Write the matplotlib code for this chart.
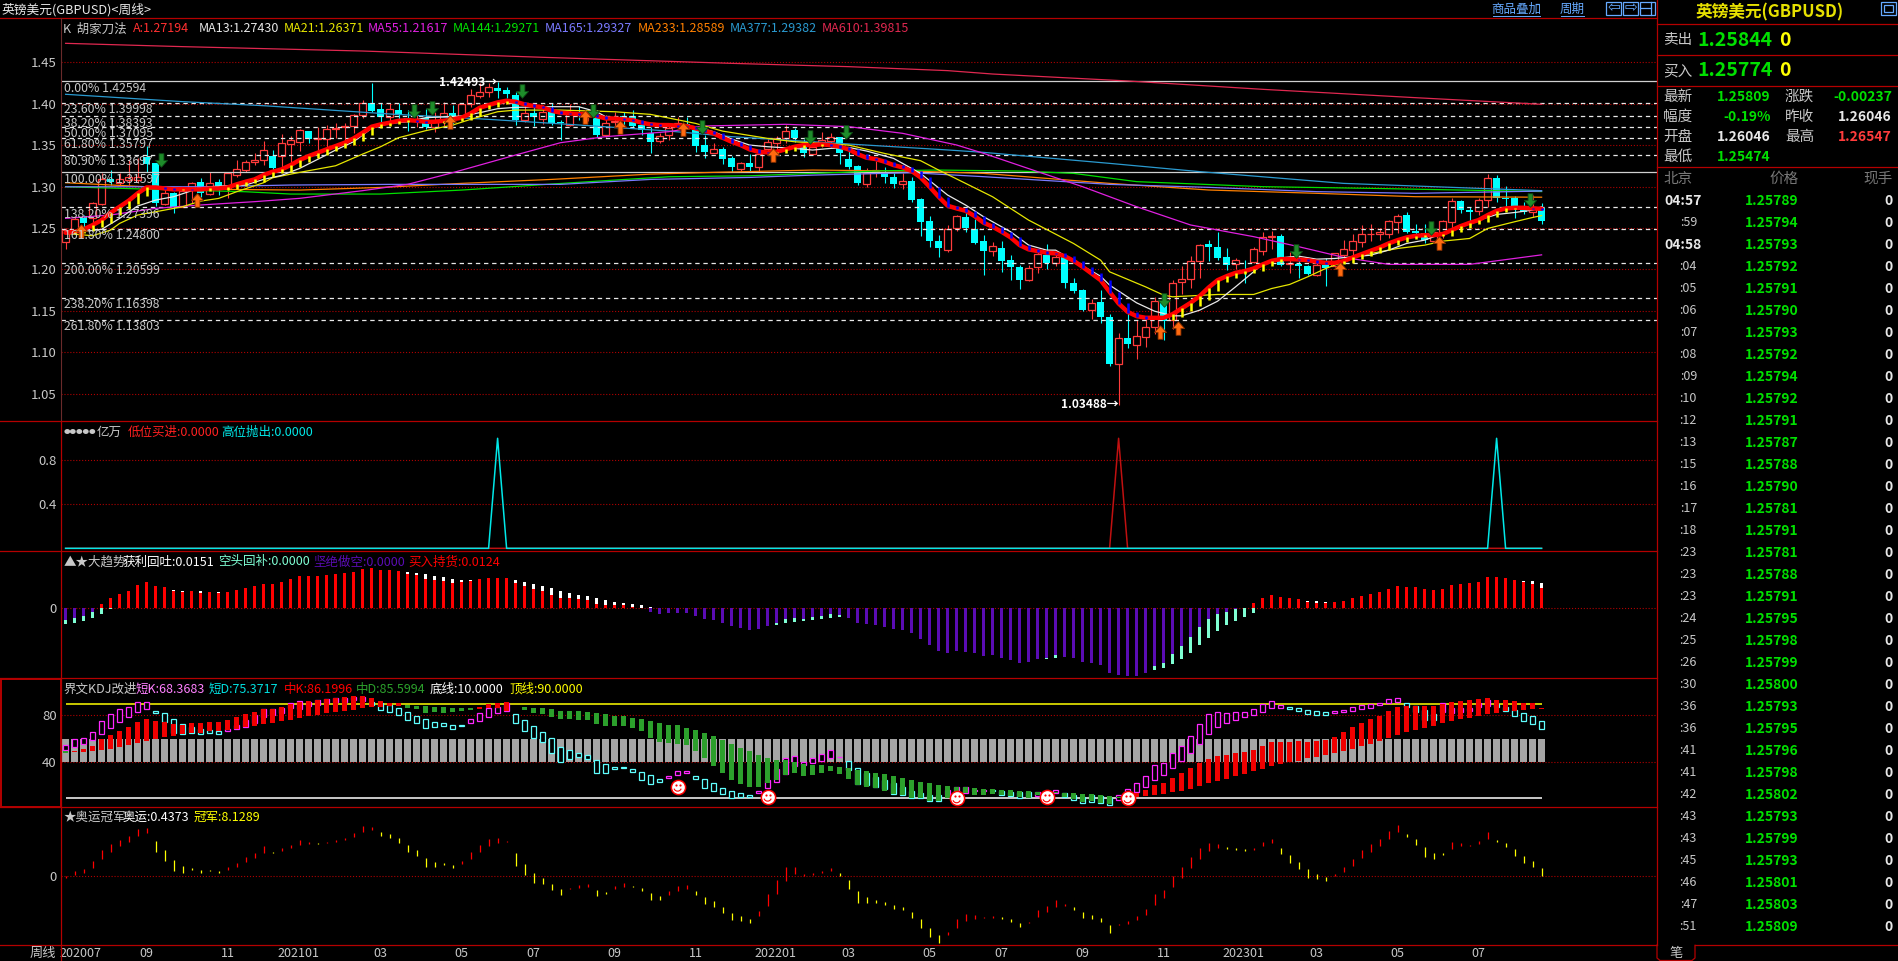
"""
GBPUSD weekly terminal screen: candles with moving averages and four indicator panes.
"""

import numpy as np
from matplotlib import pyplot as plt
from matplotlib.patches import Rectangle
from matplotlib.path import Path

plt.rcParams['font.family'] = ['Noto Sans CJK SC', 'DejaVu Sans']
plt.rcParams['axes.unicode_minus'] = False

W, H = 1898, 961

# %%
# Weekly candles
opens = [
    1.2321, 1.2441, 1.2603, 1.2603, 1.2776, 1.3078, 1.3034, 1.3066, 1.3066, 1.3340,
    1.3268, 1.2776, 1.2913, 1.2744, 1.2953, 1.3038, 1.2893, 1.3038, 1.2965, 1.3131,
    1.3187, 1.3280, 1.3312, 1.3356, 1.3356, 1.3501, 1.3530, 1.3659, 1.3562, 1.3566,
    1.3679, 1.3711, 1.3719, 1.3852, 1.4001, 1.3920, 1.3824, 1.3912, 1.3820, 1.3791,
    1.3820, 1.3711, 1.3791, 1.3872, 1.3832, 1.3981, 1.4082, 1.4134, 1.4174, 1.4154,
    1.4094, 1.3791, 1.3872, 1.3800, 1.3892, 1.3771, 1.3731, 1.3872, 1.3860, 1.3811,
    1.3610, 1.3771, 1.3840, 1.3840, 1.3731, 1.3638, 1.3541, 1.3610, 1.3743, 1.3743,
    1.3670, 1.3489, 1.3396, 1.3437, 1.3332, 1.3199, 1.3267, 1.3223, 1.3437, 1.3517,
    1.3578, 1.3670, 1.3469, 1.3380, 1.3501, 1.3541, 1.3582, 1.3320, 1.3235, 1.3018,
    1.3179, 1.3146, 1.3098, 1.3022, 1.3058, 1.2836, 1.2570, 1.2328, 1.2220, 1.2490,
    1.2619, 1.2478, 1.2328, 1.2212, 1.2244, 1.2099, 1.2018, 1.1857, 1.2018, 1.2159,
    1.2058, 1.2130, 1.1816, 1.1735, 1.1501, 1.1590, 1.1405, 1.0837, 1.1151, 1.1078,
    1.1163, 1.1292, 1.1602, 1.1372, 1.1828, 1.1876, 1.2082, 1.2291, 1.2251, 1.2134,
    1.2046, 1.2090, 1.2078, 1.2211, 1.2380, 1.2388, 1.2046, 1.2046, 1.2025, 1.1917,
    1.2042, 1.2025, 1.2158, 1.2219, 1.2320, 1.2412, 1.2412, 1.2420, 1.2561, 1.2642,
    1.2449, 1.2432, 1.2328, 1.2441, 1.2561, 1.2811, 1.2702, 1.2694, 1.2831, 1.3085,
    1.2852, 1.2852, 1.2731, 1.2682, 1.2723,
]
closes = [
    1.2462, 1.2595, 1.2550, 1.2784, 1.3074, 1.3046, 1.3074, 1.3106, 1.3106, 1.3260,
    1.2792, 1.2913, 1.2736, 1.2937, 1.3034, 1.2905, 1.3034, 1.2977, 1.3147, 1.3195,
    1.3280, 1.3308, 1.3425, 1.3215, 1.3517, 1.3550, 1.3671, 1.3558, 1.3578, 1.3679,
    1.3695, 1.3723, 1.3852, 1.4001, 1.3904, 1.3824, 1.3920, 1.3852, 1.3800, 1.3800,
    1.3703, 1.3791, 1.3872, 1.3824, 1.3985, 1.4094, 1.4134, 1.4194, 1.4146, 1.4106,
    1.3791, 1.3872, 1.3824, 1.3892, 1.3751, 1.3751, 1.3872, 1.3864, 1.3864, 1.3610,
    1.3751, 1.3783, 1.3791, 1.3719, 1.3670, 1.3529, 1.3598, 1.3691, 1.3751, 1.3691,
    1.3481, 1.3408, 1.3437, 1.3320, 1.3219, 1.3267, 1.3219, 1.3380, 1.3521, 1.3578,
    1.3662, 1.3570, 1.3388, 1.3461, 1.3549, 1.3582, 1.3388, 1.3219, 1.3030, 1.3155,
    1.3187, 1.3098, 1.3014, 1.3050, 1.2824, 1.2562, 1.2328, 1.2248, 1.2473, 1.2631,
    1.2482, 1.2308, 1.2208, 1.2268, 1.2087, 1.2018, 1.1857, 1.1998, 1.2171, 1.2058,
    1.2130, 1.1824, 1.1727, 1.1501, 1.1574, 1.1413, 1.0841, 1.1151, 1.1090, 1.1179,
    1.1284, 1.1606, 1.1364, 1.1824, 1.1876, 1.2082, 1.2287, 1.2259, 1.2126, 1.2038,
    1.2098, 1.2082, 1.2231, 1.2380, 1.2388, 1.2038, 1.2058, 1.2030, 1.1929, 1.2038,
    1.2009, 1.2179, 1.2227, 1.2328, 1.2412, 1.2420, 1.2437, 1.2570, 1.2630, 1.2437,
    1.2428, 1.2340, 1.2441, 1.2574, 1.2815, 1.2702, 1.2682, 1.2831, 1.3085, 1.2844,
    1.2836, 1.2731, 1.2682, 1.2715, 1.2574,
]
highs = [
    1.2482, 1.2623, 1.2643, 1.2804, 1.3147, 1.3187, 1.3147, 1.3308, 1.3328, 1.3477,
    1.3276, 1.2985, 1.2925, 1.2965, 1.3046, 1.3086, 1.3167, 1.3074, 1.3167, 1.3308,
    1.3308, 1.3388, 1.3538, 1.3429, 1.3622, 1.3598, 1.3679, 1.3659, 1.3711, 1.3731,
    1.3751, 1.3751, 1.3860, 1.4033, 1.4243, 1.4001, 1.4001, 1.4001, 1.3912, 1.3852,
    1.3920, 1.3892, 1.4005, 1.3973, 1.3993, 1.4166, 1.4235, 1.4235, 1.4249, 1.4194,
    1.4134, 1.4013, 1.3993, 1.3973, 1.3993, 1.3791, 1.3985, 1.3961, 1.3912, 1.3912,
    1.3852, 1.3892, 1.3892, 1.3912, 1.3751, 1.3711, 1.3638, 1.3751, 1.3824, 1.3824,
    1.3711, 1.3610, 1.3509, 1.3469, 1.3356, 1.3288, 1.3376, 1.3429, 1.3558, 1.3598,
    1.3731, 1.3691, 1.3558, 1.3549, 1.3650, 1.3638, 1.3590, 1.3437, 1.3247, 1.3207,
    1.3300, 1.3227, 1.3146, 1.3146, 1.3098, 1.2844, 1.2631, 1.2401, 1.2522, 1.2643,
    1.2703, 1.2590, 1.2401, 1.2320, 1.2328, 1.2159, 1.2038, 1.2038, 1.2220, 1.2292,
    1.2170, 1.2178, 1.1888, 1.1755, 1.1634, 1.1735, 1.1453, 1.1223, 1.1493, 1.1372,
    1.1393, 1.1655, 1.1634, 1.1856, 1.2025, 1.2146, 1.2299, 1.2340, 1.2440, 1.2239,
    1.2118, 1.2098, 1.2251, 1.2441, 1.2449, 1.2412, 1.2199, 1.2158, 1.2038, 1.2058,
    1.2118, 1.2187, 1.2340, 1.2420, 1.2521, 1.2541, 1.2481, 1.2582, 1.2650, 1.2674,
    1.2541, 1.2541, 1.2461, 1.2582, 1.2844, 1.2831, 1.2743, 1.2844, 1.3134, 1.3126,
    1.2993, 1.2872, 1.2803, 1.2884, 1.2791,
]
lows = [
    1.2232, 1.2421, 1.2462, 1.2522, 1.2764, 1.3006, 1.3006, 1.3006, 1.3026, 1.3167,
    1.2752, 1.2764, 1.2663, 1.2736, 1.2784, 1.2865, 1.2885, 1.2885, 1.2844, 1.3098,
    1.3167, 1.3247, 1.3247, 1.3114, 1.3227, 1.3268, 1.3417, 1.3517, 1.3429, 1.3469,
    1.3570, 1.3530, 1.3630, 1.3820, 1.3888, 1.3771, 1.3771, 1.3791, 1.3663, 1.3703,
    1.3679, 1.3650, 1.3719, 1.3731, 1.3791, 1.3945, 1.4053, 1.4074, 1.4053, 1.4053,
    1.3731, 1.3771, 1.3719, 1.3739, 1.3731, 1.3549, 1.3719, 1.3791, 1.3783, 1.3582,
    1.3590, 1.3711, 1.3731, 1.3711, 1.3610, 1.3396, 1.3517, 1.3549, 1.3711, 1.3678,
    1.3408, 1.3336, 1.3388, 1.3259, 1.3167, 1.3167, 1.3167, 1.3167, 1.3368, 1.3408,
    1.3517, 1.3529, 1.3348, 1.3368, 1.3469, 1.3469, 1.3259, 1.3195, 1.3005, 1.2985,
    1.3098, 1.3026, 1.2965, 1.2953, 1.2804, 1.2389, 1.2260, 1.2139, 1.2199, 1.2453,
    1.2441, 1.2292, 1.1917, 1.2147, 1.1958, 1.1857, 1.1748, 1.1845, 1.1946, 1.1990,
    1.2025, 1.1767, 1.1703, 1.1485, 1.1381, 1.1340, 1.0816, 1.0349, 1.1038, 1.0905,
    1.1050, 1.1203, 1.1131, 1.1260, 1.1687, 1.1763, 1.1884, 1.2090, 1.2098, 1.1977,
    1.1997, 1.1824, 1.2058, 1.2158, 1.2227, 1.2025, 1.1937, 1.1888, 1.1917, 1.1905,
    1.1784, 1.2017, 1.2118, 1.2098, 1.2251, 1.2328, 1.2340, 1.2360, 1.2428, 1.2428,
    1.2388, 1.2300, 1.2320, 1.2360, 1.2481, 1.2670, 1.2570, 1.2642, 1.2743, 1.2803,
    1.2723, 1.2610, 1.2654, 1.2622, 1.2533,
]

# the thick "A" line, one value per week
line_a = [
    1.2429, 1.2441, 1.2470, 1.2522, 1.2582, 1.2671, 1.2744, 1.2816, 1.2905, 1.2977,
    1.2977, 1.2965, 1.2953, 1.2957, 1.2953, 1.2953, 1.2965, 1.2965, 1.2977, 1.3014,
    1.3046, 1.3074, 1.3127, 1.3167, 1.3195, 1.3247, 1.3308, 1.3356, 1.3397, 1.3437,
    1.3477, 1.3517, 1.3570, 1.3638, 1.3711, 1.3739, 1.3759, 1.3783, 1.3791, 1.3783,
    1.3771, 1.3771, 1.3783, 1.3800, 1.3820, 1.3872, 1.3940, 1.3973, 1.4005, 1.4025,
    1.4013, 1.3981, 1.3961, 1.3945, 1.3904, 1.3880, 1.3872, 1.3864, 1.3864, 1.3840,
    1.3811, 1.3811, 1.3799, 1.3791, 1.3759, 1.3739, 1.3731, 1.3731, 1.3723, 1.3719,
    1.3691, 1.3662, 1.3630, 1.3578, 1.3529, 1.3489, 1.3437, 1.3408, 1.3400, 1.3408,
    1.3437, 1.3469, 1.3489, 1.3489, 1.3497, 1.3489, 1.3469, 1.3437, 1.3380, 1.3336,
    1.3320, 1.3288, 1.3247, 1.3219, 1.3175, 1.3098, 1.2985, 1.2864, 1.2756, 1.2723,
    1.2695, 1.2631, 1.2550, 1.2502, 1.2441, 1.2373, 1.2280, 1.2228, 1.2208, 1.2187,
    1.2179, 1.2146, 1.2090, 1.2017, 1.1937, 1.1856, 1.1715, 1.1574, 1.1473, 1.1421,
    1.1401, 1.1401, 1.1401, 1.1445, 1.1514, 1.1582, 1.1663, 1.1767, 1.1856, 1.1904,
    1.1945, 1.1965, 1.1997, 1.2046, 1.2090, 1.2110, 1.2110, 1.2106, 1.2098, 1.2078,
    1.2066, 1.2066, 1.2086, 1.2130, 1.2171, 1.2211, 1.2251, 1.2300, 1.2340, 1.2372,
    1.2392, 1.2400, 1.2400, 1.2412, 1.2461, 1.2509, 1.2549, 1.2582, 1.2642, 1.2694,
    1.2723, 1.2731, 1.2731, 1.2723, 1.2719,
]

# moving averages: week number and price at the points
ma13_x = [0, 4, 6, 8, 10, 12, 14, 16, 18, 20, 22, 24, 26, 28, 30, 32, 34, 36, 38, 40, 44, 46, 48, 50, 54, 57, 59,
          60, 63, 65, 67, 70, 72, 74, 76, 78, 81, 83, 85, 87, 89, 92, 95, 98, 100, 102, 105, 107, 109, 110, 112,
          115, 116, 119, 121, 123, 124, 126, 128, 130, 132, 133, 135, 137, 139, 141, 143, 145, 147, 149, 151,
          153, 155, 157, 159, 161, 163, 164]
ma13_y = [1.2421, 1.2470, 1.2603, 1.2752, 1.2824, 1.2865, 1.2937, 1.2985, 1.2998, 1.3006, 1.3074, 1.3123, 1.3207,
          1.3316, 1.3429, 1.3530, 1.3691, 1.3751, 1.3771, 1.3820, 1.3840, 1.3880, 1.3929, 1.3945, 1.3953, 1.3953,
          1.3892, 1.3832, 1.3791, 1.3751, 1.3743, 1.3711, 1.3650, 1.3562, 1.3489, 1.3469, 1.3449, 1.3429, 1.3449,
          1.3461, 1.3417, 1.3328, 1.3146, 1.2885, 1.2764, 1.2623, 1.2441, 1.2280, 1.2219, 1.2219, 1.2090, 1.1904,
          1.1796, 1.1582, 1.1481, 1.1425, 1.1425, 1.1493, 1.1602, 1.1776, 1.1957, 1.2058, 1.2126, 1.2146, 1.2110,
          1.2118, 1.2138, 1.2158, 1.2219, 1.2300, 1.2340, 1.2420, 1.2521, 1.2582, 1.2650, 1.2674, 1.2703, 1.2743]
ma21_x = [0, 3, 5, 6, 8, 11, 13, 15, 17, 19, 22, 23, 26, 30, 33, 35, 37, 40, 43, 45, 48, 50, 55, 61, 65, 70, 73,
          78, 81, 87, 91, 95, 97, 100, 103, 107, 109, 112, 115, 116, 120, 122, 123, 128, 132, 134, 136, 138, 140,
          142, 144, 148, 151, 153, 156, 158, 161, 163, 164]
ma21_y = [1.2421, 1.2393, 1.2462, 1.2542, 1.2643, 1.2703, 1.2744, 1.2812, 1.2844, 1.2925, 1.3034, 1.3094, 1.3159,
          1.3239, 1.3380, 1.3469, 1.3578, 1.3663, 1.3731, 1.3800, 1.3892, 1.3912, 1.3912, 1.3892, 1.3860, 1.3751,
          1.3658, 1.3570, 1.3529, 1.3489, 1.3388, 1.3300, 1.3187, 1.3026, 1.2864, 1.2582, 1.2469, 1.2299, 1.2098,
          1.1957, 1.1775, 1.1675, 1.1655, 1.1683, 1.1683, 1.1755, 1.1804, 1.1896, 1.1997, 1.2078, 1.2158, 1.2239,
          1.2279, 1.2328, 1.2360, 1.2481, 1.2562, 1.2614, 1.2637]
ma55_x = [0, 5, 10, 15, 21, 26, 33, 38, 43, 50, 55, 60, 67, 71, 80, 87, 93, 99, 102, 108, 113, 119, 125, 132, 137,
          142, 147, 156, 164]
ma55_y = [1.2603, 1.2644, 1.2724, 1.2765, 1.2805, 1.2845, 1.2938, 1.3014, 1.3155, 1.3369, 1.3518, 1.3591, 1.3651,
          1.3720, 1.3740, 1.3712, 1.3631, 1.3490, 1.3389, 1.3168, 1.2986, 1.2744, 1.2523, 1.2382, 1.2261, 1.2132,
          1.2047, 1.2047, 1.2162]
ma144_x = [0, 9, 20, 25, 35, 44, 54, 61, 67, 76, 83, 91, 97, 106, 112, 119, 133, 145, 164]
ma144_y = [1.2985, 1.2957, 1.2925, 1.2897, 1.2897, 1.2945, 1.3018, 1.3066, 1.3106, 1.3118, 1.3146, 1.3179, 1.3187,
           1.3175, 1.3147, 1.3047, 1.2986, 1.2966, 1.2927]
ma165_x = [0, 15, 25, 36, 55, 65, 76, 83, 94, 102, 116, 127, 139, 150, 164]
ma165_y = [1.2985, 1.2985, 1.3006, 1.3014, 1.3014, 1.3074, 1.3098, 1.3126, 1.3155, 1.3107, 1.3014, 1.2978, 1.2926,
           1.2906, 1.2933]
ma233_x = [0, 9, 18, 26, 35, 44, 54, 65, 72, 83, 94, 102, 116, 127, 139, 150, 164]
ma233_y = [1.3034, 1.2985, 1.2953, 1.2945, 1.2977, 1.3026, 1.3074, 1.3138, 1.3159, 1.3187, 1.3175, 1.3147, 1.3026,
           1.2946, 1.2906, 1.2865, 1.2859]
ma377_x = [0, 13, 22, 36, 47, 57, 67, 74, 87, 98, 102, 116, 126, 142, 164]
ma377_y = [1.4103, 1.4014, 1.3965, 1.3865, 1.3800, 1.3732, 1.3659, 1.3591, 1.3502, 1.3430, 1.3401, 1.3268, 1.3168,
           1.3026, 1.2938]
ma610_x = [0, 13, 33, 53, 74, 87, 98, 103, 118, 133, 150, 164]
ma610_y = [1.4719, 1.4679, 1.4626, 1.4550, 1.4477, 1.4437, 1.4389, 1.4348, 1.4264, 1.4163, 1.4062, 1.3982]

# fibonacci levels
fib_prices = [1.42594, 1.39998, 1.38393, 1.37095, 1.35797, 1.33697, 1.31597, 1.27396, 1.24800, 1.20599, 1.16398,
              1.13803]
fib_pcts = ['0.00%', '23.60%', '38.20%', '50.00%', '61.80%', '80.90%', '100.00%', '138.20%', '161.80%', '200.00%',
            '238.20%', '261.80%']

# signal arrows
green_x = [10.6, 38.7, 40.7, 50.7, 58.6, 70.7, 82.7, 86.7, 122.0, 136.7, 151.7, 162.7]
green_y = [1.3308, 1.3904, 1.3932, 1.4142, 1.3904, 1.3711, 1.3582, 1.3650, 1.1622, 1.2211, 1.2481, 1.2823]
orange_x = [1.7, 14.6, 42.7, 57.7, 61.6, 68.6, 78.6, 121.6, 123.6, 141.6, 152.6]
orange_y = [1.2450, 1.2824, 1.3771, 1.3832, 1.3703, 1.3678, 1.3368, 1.1231, 1.1272, 1.1985, 1.2300]

price_ticks = [1.4489, 1.3989, 1.3488, 1.2988, 1.2487, 1.1987, 1.1486, 1.0986, 1.0485]
price_labels = ['1.45', '1.40', '1.35', '1.30', '1.25', '1.20', '1.15', '1.10', '1.05']

# %%
# Pane 2: low buy / high sell signals
low_buy = [0] * 117 + [1] + [0] * 47
high_sell = [0] * 48 + [1] + [0] * 110 + [1] + [0] * 5

# %%
# Pane 3: trend bars, in units of 0.0001
buy_hold = [0] * 4 + [
    26, 60, 86, 104, 140, 158, 134, 128, 106, 100,
    104, 94, 98, 94, 98, 110, 124, 134, 148, 146,
    158, 176, 194, 194, 194, 200, 206, 212, 218, 236,
    242, 230, 230, 224, 206, 200, 176, 170, 164, 152,
    158, 164, 176, 182, 182, 182, 152, 134, 116, 104,
    80, 62, 62, 56, 50, 26, 18, 18, 18, 8, 2,
] + [0] * 67 + [
    32, 62, 80, 68, 62, 56, 38, 32, 32, 38,
    44, 62, 74, 86, 98, 116, 134, 128, 128, 116,
    110, 116, 140, 146, 152, 158, 188, 188, 182, 170,
    158, 146, 124,
]
profit_take = [0] * 4 + [
    26, 60, 86, 104, 140, 158, 134, 128, 110, 104,
    104, 104, 98, 98, 98, 110, 124, 134, 148, 146,
    158, 176, 194, 194, 194, 200, 206, 212, 218, 236,
    242, 230, 230, 224, 218, 212, 206, 194, 188, 176,
    170, 170, 176, 182, 182, 182, 170, 158, 146, 134,
    122, 104, 92, 80, 74, 62, 50, 38, 32, 26, 20, 8,
] + [0] * 66 + [
    32, 62, 80, 68, 62, 56, 44, 44, 38, 38,
    44, 62, 74, 86, 98, 116, 134, 128, 128, 116,
    110, 116, 140, 146, 152, 158, 188, 188, 182, 170,
    164, 164, 151,
]
short_sell = [70, 60, 46, 24] + [0] * 61 + [
    20, 34, 28, 28, 28, 46, 64, 70, 88, 106, 118, 130, 124, 106, 88, 64, 58,
    64, 52, 46, 34, 40, 58, 88, 94, 100, 112,
    124, 130, 148, 184, 220, 256, 268, 256, 262, 268,
    286, 280, 298, 310, 328, 322, 304, 298, 280, 292,
    298, 322, 328, 340, 388, 400, 406, 406, 388, 346,
    328, 274, 226, 172, 112, 64, 34, 22, 4,
] + [0] * 34
short_cover = [94, 86, 76, 60, 34, 6] + [0] * 73 + [100, 88, 82, 76, 70, 64, 58, 52] + [0] * 22 + [304, 298] \
    + [0] * 10 + [370, 358, 334, 304, 268, 220, 178, 136, 100, 76, 52, 28] + [0] * 32

# %%
# Pane 4: short and mid KD
short_k = [
    54.7, 59.6, 60.4, 65.5, 75.2, 80.8, 85.1, 86.8, 91.0, 91.0,
    82.3, 74.6, 64.7, 64.1, 64.7, 63.8, 65.2, 64.4, 68.1, 71.8,
    76.0, 80.3, 85.1, 85.1, 85.9, 90.2, 92.2, 91.6, 93.0, 93.6,
    94.5, 94.5, 95.9, 95.9, 88.8, 84.5, 83.1, 80.3, 76.0, 73.8,
    69.5, 70.3, 71.2, 68.1, 71.2, 76.6, 81.7, 85.9, 87.4, 90.2,
    73.8, 66.9, 60.4, 57.6, 48.2, 40.6, 43.1, 44.2, 43.1, 31.2,
    30.6, 34.0, 35.4, 31.5, 25.0, 21.6, 23.0, 28.6, 32.9, 32.9,
    25.5, 18.4, 15.9, 12.7, 9.4, 10.2, 10.2, 15.9, 25.0, 34.0,
    43.4, 45.7, 40.6, 43.4, 47.1, 50.5, 44.8, 33.5, 21.3, 20.7,
    19.3, 17.0, 13.0, 11.9, 9.4, 9.4, 7.1, 7.1, 16.4, 18.7,
    18.7, 16.4, 16.4, 15.9, 12.2, 11.3, 9.4, 10.2, 15.0, 15.0,
    16.2, 10.8, 7.9, 5.7, 6.5, 5.7, 3.7, 12.2, 17.3, 22.1,
    28.1, 37.4, 39.2, 47.7, 53.9, 62.4, 72.6, 80.8, 82.5, 81.7,
    82.5, 82.5, 85.1, 89.6, 91.9, 88.5, 85.7, 84.0, 81.4, 80.6,
    80.6, 83.4, 84.2, 86.8, 88.5, 89.4, 90.2, 93.6, 94.5, 87.4,
    83.1, 76.0, 76.0, 90.2, 85.9, 85.9, 86.5, 90.2, 93.0, 87.4,
    84.0, 79.7, 75.5, 72.9, 68.4,
]
short_d = [
    50.5, 52.8, 55.6, 59.0, 64.1, 69.5, 74.6, 78.9, 83.1, 85.4,
    84.0, 81.7, 76.6, 72.6, 69.8, 68.1, 67.5, 66.7, 67.0, 68.1,
    70.3, 73.2, 78.9, 80.3, 81.7, 85.9, 85.1, 87.9, 88.8, 90.2,
    91.6, 91.6, 93.0, 92.5, 91.6, 90.2, 88.8, 86.5, 82.5, 79.7,
    76.6, 74.0, 73.2, 71.5, 71.8, 73.2, 75.5, 78.9, 82.3, 84.0,
    80.8, 76.0, 70.9, 66.1, 60.4, 53.3, 50.5, 48.2, 46.5, 42.0,
    38.3, 36.3, 36.3, 34.6, 31.5, 28.9, 26.1, 26.9, 28.9, 30.6,
    28.6, 25.5, 22.1, 18.4, 15.9, 14.2, 12.5, 13.6, 17.9, 23.0,
    29.8, 36.9, 37.7, 39.2, 41.4, 43.4, 44.2, 41.1, 34.9, 30.6,
    27.8, 25.0, 22.1, 19.3, 15.9, 13.6, 12.2, 12.2, 12.2, 14.2,
    14.2, 15.6, 15.6, 16.4, 15.9, 15.0, 15.0, 15.0, 11.3, 12.2,
    13.6, 14.2, 12.2, 10.8, 12.2, 11.3, 9.4, 7.9, 13.0, 15.0,
    19.3, 25.2, 29.5, 35.4, 41.1, 47.9, 55.9, 64.4, 70.3, 73.8,
    76.0, 78.9, 80.6, 83.1, 86.5, 86.5, 86.8, 85.9, 84.2, 83.4,
    82.5, 82.3, 83.1, 84.0, 85.7, 86.5, 88.5, 90.2, 91.6, 90.2,
    87.9, 84.5, 81.1, 83.1, 82.3, 83.1, 84.0, 86.8, 88.2, 89.4,
    87.4, 84.2, 81.7, 79.1, 75.4,
]
mid_k = [
    47.7, 49.4, 51.3, 53.9, 59.6, 63.3, 66.7, 70.3, 74.0, 76.6,
    75.2, 74.6, 72.6, 71.8, 73.2, 73.2, 74.3, 74.3, 76.0, 78.6,
    80.8, 82.8, 85.4, 85.4, 86.8, 89.4, 91.3, 92.5, 93.0, 93.9,
    94.5, 95.3, 96.4, 96.4, 94.7, 92.2, 90.8, 90.2, 85.9, 85.4,
    82.3, 82.8, 81.7, 82.8, 83.4, 84.5, 87.1, 89.9, 90.5, 91.3,
    86.8, 84.5, 81.7, 80.8, 78.6, 76.6, 76.6, 76.0, 76.0, 72.3,
    70.9, 70.9, 70.9, 68.9, 66.7, 60.4, 57.3, 56.2, 55.6, 54.7,
    49.6, 43.4, 36.9, 30.6, 25.0, 21.3, 19.3, 19.3, 22.1, 25.0,
    29.2, 31.2, 28.4, 29.2, 31.2, 32.6, 30.1, 25.8, 20.7, 19.3,
    17.9, 15.9, 13.0, 12.2, 9.4, 9.4, 7.4, 7.4, 9.4, 13.6,
    13.6, 12.2, 12.2, 13.0, 12.2, 11.3, 10.2, 9.4, 12.2, 13.0,
    13.6, 10.8, 8.5, 6.0, 7.1, 5.7, 4.3, 9.4, 10.8, 13.9,
    16.4, 20.7, 22.4, 26.7, 30.9, 35.2, 39.4, 42.8, 45.4, 46.2,
    47.9, 48.8, 50.5, 53.9, 57.3, 57.3, 57.3, 58.1, 57.3, 58.1,
    59.0, 61.5, 65.8, 70.1, 73.5, 76.9, 79.4, 83.7, 87.1, 87.9,
    87.9, 87.9, 87.9, 89.6, 91.3, 92.2, 93.0, 93.9, 94.7, 93.0,
    93.0, 92.2, 90.5, 90.2, 86.2,
]
mid_d = [
    49.6, 48.8, 48.8, 49.6, 50.5, 51.3, 53.3, 54.7, 56.7, 58.4,
    59.6, 61.8, 62.7, 63.8, 64.7, 64.7, 66.4, 66.7, 67.5, 68.1,
    70.3, 71.2, 72.6, 73.2, 75.2, 76.0, 78.0, 79.4, 80.3, 81.7,
    82.5, 84.0, 84.5, 86.5, 87.4, 86.8, 87.9, 88.2, 88.8, 88.2,
    87.9, 87.1, 86.8, 86.5, 86.2, 86.5, 85.4, 86.5, 86.5, 84.0,
    87.4, 87.1, 86.5, 86.2, 85.1, 84.0, 84.0, 83.4, 82.8, 81.7,
    80.8, 79.7, 79.4, 77.4, 76.6, 75.2, 73.8, 71.5, 71.5, 68.9,
    67.5, 64.7, 62.4, 59.0, 55.6, 51.9, 49.6, 46.2, 43.4, 42.0,
    42.0, 40.0, 38.3, 37.7, 37.7, 36.9, 36.0, 34.9, 33.5, 32.3,
    30.6, 30.1, 28.4, 26.7, 25.0, 23.3, 22.4, 20.7, 19.9, 18.7,
    18.7, 18.2, 17.3, 17.3, 16.4, 16.4, 15.6, 15.6, 14.7, 14.7,
    15.0, 13.9, 13.9, 13.0, 13.0, 12.2, 11.3, 10.8, 9.4, 10.2,
    11.3, 12.2, 13.0, 14.7, 15.9, 17.3, 19.9, 22.4, 24.1, 25.8,
    28.4, 30.1, 32.6, 34.3, 36.9, 38.6, 40.3, 41.1, 43.7, 44.5,
    46.2, 47.9, 49.6, 51.3, 53.9, 55.6, 58.1, 60.7, 63.3, 65.8,
    67.5, 69.2, 70.9, 73.5, 75.2, 76.9, 77.7, 79.4, 81.1, 82.0,
    83.7, 83.7, 84.5, 85.4, 85.6,
]
smile_x = [68, 78, 99, 109, 118]
smile_y = [19.3, 10.8, 9.4, 10.2, 9.4]

# %%
# Pane 5: olympic / champion sticks
olympic = [
    0.0, 5.1, 7.1, 15.6, 26.4, 32.9, 37.0, 41.0, 48.1, 49.2,
    25.1, 15.9, 5.4, 3.4, 6.4, 3.4, 5.4, 3.4, 9.5, 13.6,
    19.7, 23.7, 30.8, 23.7, 28.8, 31.9, 37.0, 34.9, 32.9, 34.9,
    37.0, 39.0, 43.7, 51.2, 50.2, 41.0, 39.0, 33.9, 24.7, 20.7,
    9.5, 9.5, 11.5, 8.5, 15.6, 24.7, 31.9, 38.0, 39.0, 35.9,
    10.5, 1.4, -6.8, -7.8, -13.9, -19.0, -11.9, -8.8, -7.8, -20.0,
    -18.0, -9.8, -6.8, -10.8, -14.9, -24.1, -24.1, -14.9, -9.8, -8.8,
    -19.0, -28.1, -31.2, -37.3, -44.4, -45.4, -47.5, -35.3, -18.0, -3.7,
    9.5, 9.5, 2.4, 3.4, 5.4, 8.5, 0.3, -12.9, -27.1, -27.1,
    -27.1, -29.2, -33.2, -34.2, -42.4, -52.5, -61.7, -67.8, -56.6, -43.4,
    -38.3, -39.3, -41.4, -40.3, -43.4, -46.4, -51.5, -46.4, -34.2, -30.2,
    -24.1, -28.1, -34.2, -42.4, -43.4, -46.4, -57.6, -48.5, -45.4, -40.3,
    -33.2, -18.0, -13.9, 0.3, 9.5, 19.7, 28.8, 33.9, 32.9, 27.8,
    26.8, 25.8, 28.8, 34.9, 38.0, 22.7, 13.6, 7.5, -1.7, -2.7,
    -4.7, 2.4, 9.5, 17.6, 26.8, 32.9, 38.0, 46.1, 52.2, 40.0,
    31.9, 19.7, 17.6, 21.7, 34.9, 33.9, 31.9, 35.9, 45.1, 34.9,
    29.8, 20.7, 13.6, 9.5, 0.4,
]
champion = [
    -2.0, 1.4, 3.4, 8.5, 17.6, 24.7, 30.8, 34.9, 41.0, 44.1,
    35.9, 26.8, 16.3, 10.5, 8.5, 6.4, 6.4, 5.4, 6.4, 9.5,
    14.6, 18.6, 23.7, 24.7, 25.8, 28.8, 31.9, 32.9, 33.9, 33.9,
    34.9, 37.0, 40.0, 45.1, 47.1, 45.1, 43.1, 39.0, 31.9, 26.8,
    18.6, 14.6, 13.6, 11.5, 12.5, 17.6, 24.7, 30.8, 33.9, 34.9,
    23.7, 12.5, 3.4, -1.7, -7.8, -12.9, -12.9, -11.9, -10.8, -13.9,
    -15.9, -12.9, -10.8, -9.8, -11.9, -17.0, -20.0, -19.0, -14.9, -12.9,
    -14.9, -21.0, -25.1, -31.2, -37.3, -40.3, -43.4, -40.3, -30.2, -18.0,
    -4.7, 2.4, 0.3, 1.4, 3.4, 5.4, 3.4, -3.7, -14.9, -21.0,
    -24.1, -26.1, -29.2, -31.2, -36.3, -43.4, -52.5, -59.7, -59.7, -52.5,
    -45.4, -43.4, -42.4, -42.4, -41.4, -43.4, -47.5, -47.5, -41.4, -36.3,
    -31.2, -30.2, -31.2, -36.3, -39.3, -42.4, -49.5, -49.5, -48.5, -44.4,
    -39.3, -29.2, -22.0, -10.8, -1.7, 8.5, 17.6, 25.8, 28.8, 29.8,
    28.8, 27.8, 26.8, 30.8, 33.9, 28.8, 21.7, 14.6, 7.5, 2.4,
    -0.7, 0.3, 4.4, 10.5, 18.6, 24.7, 30.8, 38.0, 45.1, 43.1,
    38.0, 29.8, 23.7, 23.7, 27.8, 30.8, 30.8, 32.9, 38.0, 37.0,
    33.9, 27.8, 20.7, 15.6, 8.1,
]

x_tick_pos = [1.6, 9, 18, 25.9, 35, 44, 52, 61, 70, 78.9, 87, 96, 104, 113, 122, 130.9, 139, 148, 157]
x_tick_labels = ['202007', '09', '11', '202101', '03', '05', '07', '09', '11', '202201', '03', '05', '07', '09',
                 '11', '202301', '03', '05', '07']

# %%
# Quote panel on the right
quote_rows = [
    ('最新', '1.25809', '#00e000', '涨跌', '-0.00237', '#00e000'),
    ('幅度', '-0.19%', '#00e000', '昨收', '1.26046', '#e8e8e8'),
    ('开盘', '1.26046', '#e8e8e8', '最高', '1.26547', '#ff3c3c'),
    ('最低', '1.25474', '#00e000', '', '', '#e8e8e8'),
]
tick_times = ['04:57', ':59', '04:58', ':04', ':05', ':06', ':07', ':08', ':09', ':10', ':12', ':13', ':15', ':16',
              ':17', ':18', ':23', ':23', ':23', ':24', ':25', ':26', ':30', ':36', ':36', ':41', ':41', ':42',
              ':43', ':43', ':45', ':46', ':47', ':51']
tick_prices = ['1.25789', '1.25794', '1.25793', '1.25792', '1.25791', '1.25790', '1.25793', '1.25792', '1.25794',
               '1.25792', '1.25791', '1.25787', '1.25788', '1.25790', '1.25781', '1.25791', '1.25781', '1.25788',
               '1.25791', '1.25795', '1.25798', '1.25799', '1.25800', '1.25793', '1.25795', '1.25796', '1.25798',
               '1.25802', '1.25793', '1.25799', '1.25793', '1.25801', '1.25803', '1.25809']

FRAME = '#b40000'
GRID = '#b00000'
GREY = '#c8c8c8'
GREEN = '#00e000'
BLUE = '#66aaff'
TICK_FONT = 9


def make_pane(fig, top, bottom, ylim, ticks=None, labels=None):
    """Axes between two pixel rows; x is the week number at 9 px per week."""
    ax = fig.add_axes([61 / W, 1 - bottom / H, (1657 - 61) / W, (bottom - top) / H])
    ax.set_facecolor('black')
    ax.set_xlim((61 - 65.6) / 9, (1657 - 65.6) / 9)
    ax.set_ylim(*ylim)
    for spine in ax.spines.values():
        spine.set_visible(False)
    ax.set_xticks([])
    ax.set_yticks(ticks if ticks is not None else [])
    if labels is not None:
        ax.set_yticklabels(labels)
    ax.tick_params(axis='y', length=0, pad=3, labelsize=TICK_FONT + 0.5, labelcolor=GREY)
    ax.grid(axis='y', color=GRID, linestyle=':', linewidth=0.8)
    ax.set_axisbelow(True)
    return ax


def draw_price(ax):
    weeks = np.arange(len(opens))
    o, c = np.array(opens), np.array(closes)
    up = c >= o
    ax.vlines(weeks[up], np.array(lows)[up], np.array(highs)[up], color='#ff3c3c', linewidth=0.8, zorder=2)
    ax.vlines(weeks[~up], np.array(lows)[~up], np.array(highs)[~up], color='#00ffff', linewidth=0.8, zorder=2)
    ax.bar(weeks[up], (c - o)[up], bottom=o[up], width=0.72, facecolor='black', edgecolor='#ff3c3c',
           linewidth=0.9, zorder=3)
    ax.bar(weeks[~up], (c - o)[~up], bottom=o[~up], width=0.78, color='#00ffff', linewidth=0, zorder=3)

    for price, pct in zip(fib_prices, fib_pcts):
        solid = pct in ('0.00%', '100.00%')
        ax.axhline(price, color='#d0d0d0' if solid else '#e8e8e8', linewidth=0.9,
                   linestyle='-' if solid else (0, (3.5, 3)), zorder=4)
        ax.annotate(f'{pct} {price:.5f}', xy=(0, price), xycoords=ax.get_yaxis_transform(),
                    xytext=(2.5, -5), textcoords='offset points', va='center', color=GREY,
                    fontsize=TICK_FONT - 0.2, zorder=9)

    ma_lines = [
        (ma610_x, ma610_y, '#e02850'), (ma377_x, ma377_y, '#2a9ad0'), (ma233_x, ma233_y, '#ff8000'),
        (ma144_x, ma144_y, '#00e000'), (ma165_x, ma165_y, '#7a7aff'), (ma55_x, ma55_y, '#e020e0'),
        (ma21_x, ma21_y, '#e6e600'), (ma13_x, ma13_y, '#e8e8e8'),
    ]
    for xs, ys, colour in ma_lines:
        ax.plot(xs, ys, color=colour, linewidth=0.9, zorder=5)

    a = np.array(line_a)
    ax.plot(weeks, a, color='#ff0000', linewidth=3.2, zorder=6, solid_capstyle='round')
    step = np.diff(a, prepend=a[0])
    rising = step > 0
    falling = step < 0
    ax.vlines(weeks[rising], a[rising] - 1.3 * step[rising] - 0.001, a[rising], color='#ffff00', linewidth=1.8,
              zorder=7)
    ax.vlines(weeks[falling], a[falling] - 0.001, a[falling] - step[falling], color='#0000ff', linewidth=1.8,
              zorder=7)

    arrow = Path([(-0.18, 0.5), (0.18, 0.5), (0.18, 0.0), (0.45, 0.0), (0.0, -0.5), (-0.45, 0.0), (-0.18, 0.0),
                  (-0.18, 0.5)], closed=True)
    ax.scatter(green_x, green_y, s=95, marker=arrow, facecolor='#1e8c2a', edgecolor='#0c4a14', linewidth=0.6,
               zorder=8)
    up_arrow = Path(arrow.vertices * np.array([1, -1]), closed=True)
    ax.scatter(orange_x, orange_y, s=95, marker=up_arrow, facecolor='#ff6a10', edgecolor='#8a3000', linewidth=0.6,
               zorder=8)

    ax.text(48, 1.42493, '1.42493→', ha='right', va='center', color='white', fontsize=TICK_FONT - 0.4,
            fontweight='bold', zorder=9)
    ax.text(117, 1.03488, '1.03488→', ha='right', va='center', color='white', fontsize=TICK_FONT - 0.4,
            fontweight='bold', zorder=9)


def draw_signals(ax):
    weeks = np.arange(len(low_buy))
    ax.plot(weeks, low_buy, color='#c01010', linewidth=1.1, zorder=3)
    ax.plot(weeks, high_sell, color='#00e8e8', linewidth=1.1, zorder=4)


def draw_trend(ax):
    weeks = np.arange(len(buy_hold))
    width = 0.34
    ax.bar(weeks, np.array(profit_take) / 1e4, width=width, color='white', zorder=3)
    ax.bar(weeks, np.array(buy_hold) / 1e4, width=width, color='#ff0000', zorder=4)
    ax.bar(weeks, -np.array(short_cover) / 1e4, width=width, color='#7fffd4', zorder=3)
    ax.bar(weeks, -np.array(short_sell) / 1e4, width=width, color='#5a0cb4', zorder=4)


def draw_kd(ax):
    weeks = np.arange(len(short_k))
    ax.bar(weeks, 20, bottom=40, width=0.8, color='#a4a4a4', zorder=2)
    ax.hlines(90, 0, weeks[-1], color='#ffff00', linewidth=1.1, zorder=3)
    ax.hlines(10, 0, weeks[-1], color='white', linewidth=1.1, zorder=3)

    k, d = np.array(short_k), np.array(short_d)
    edge = np.where(k >= d, '#ff28ff', '#60ffff')
    ax.bar(weeks, k - d, bottom=d, width=0.52, facecolor='black', edgecolor=edge, linewidth=0.9, zorder=4)
    k, d = np.array(mid_k), np.array(mid_d)
    fill = np.where(k >= d, '#f00000', '#2ca02c')
    ax.bar(weeks, k - d, bottom=d, width=0.6, color=fill, linewidth=0, zorder=5)

    ax.scatter(smile_x, smile_y, s=105, facecolor='white', edgecolor='#ff0000', linewidth=1.1, zorder=6)
    eyes_x = [x + dx for x in smile_x for dx in (-0.22, 0.22)]
    eyes_y = [y + 1.6 for y in smile_y for _ in (0, 1)]
    ax.scatter(eyes_x, eyes_y, s=2.5, color='#ff0000', linewidth=0, zorder=7)
    ax.scatter(smile_x, [y - 0.6 for y in smile_y], s=30, marker=Path.arc(200, 340), facecolor='none',
               edgecolor='#ff0000', linewidth=0.8, zorder=7)


def draw_olympic(ax):
    weeks = np.arange(len(olympic))
    a, b = np.array(olympic), np.array(champion)
    rising = a >= b
    ax.vlines(weeks[rising], b[rising], a[rising], color='#ff0000', linewidth=0.9, zorder=3)
    ax.vlines(weeks[~rising], a[~rising], b[~rising], color='#ffff00', linewidth=0.9, zorder=3)
    ax.set_xticks(x_tick_pos)
    ax.set_xticklabels(x_tick_labels)
    ax.tick_params(axis='x', length=0, pad=1.5, labelsize=TICK_FONT, labelcolor=GREY)


def draw_chrome(bg):
    """Frame lines, headers and the quote panel, placed in screen pixels."""
    # frames
    for y in (18, 421.3, 551.3, 678.3, 807, 945.3):
        bg.plot([0, 1657], [y, y], color=FRAME, linewidth=0.9)
    bg.plot([61, 61], [18, 421], color='#6a2a2a', linewidth=0.8)
    bg.plot([61, 61], [421, 961], color=FRAME, linewidth=0.9)
    bg.plot([1657, 1657], [0, 945], color=FRAME, linewidth=0.9)
    bg.add_patch(Rectangle((0.7, 679), 60, 128, fill=False, edgecolor=FRAME, linewidth=1.4))

    bg.text(1, 10, '英镑美元(GBPUSD)<周线>', color='#e8e8e8', fontsize=9.2, va='center')
    bg.text(56, 953, '周线', color=GREY, fontsize=9.5, va='center', ha='right')

    # pane headers
    header = [
        (63, 29, 'K  胡家刀法', GREY), (133, 29, 'A:1.27194', '#ff3030'), (199, 29, 'MA13:1.27430', '#e8e8e8'),
        (284, 29, 'MA21:1.26371', '#e6e600'), (368, 29, 'MA55:1.21617', '#e020e0'),
        (453, 29, 'MA144:1.29271', '#00e000'), (545, 29, 'MA165:1.29327', '#7a7aff'),
        (638, 29, 'MA233:1.28589', '#ff8000'), (730, 29, 'MA377:1.29382', '#2a9ad0'),
        (822, 29, 'MA610:1.39815', '#e02850'),
        (97, 432, '亿万', GREY), (128, 432, '低位买进:0.0000', '#ff2020'), (221, 432, '高位抛出:0.0000', '#00e8e8'),
        (64, 562, '▲★大趋势', GREY), (123, 562, '获利回吐:0.0151', 'white'), (218, 562, '空头回补:0.0000', '#7fffd4'),
        (313, 562, '坚绝做空:0.0000', '#5a0cb4'), (408, 562, '买入持货:0.0124', '#ff0000'),
        (63.5, 689, '界文KDJ改进', GREY), (136, 689, '短K:68.3683', '#ff80ff'), (209, 689, '短D:75.3717', '#00e0e0'),
        (284, 689, '中K:86.1996', '#ff0000'), (356, 689, '中D:85.5994', '#2ca02c'), (430, 689, '底线:10.0000', 'white'),
        (509, 689, '顶线:90.0000', '#ffff00'),
        (63.5, 817, '★奥运冠军', GREY), (123, 817, '奥运:0.4373', 'white'), (194, 817, '冠军:8.1289', '#ffff00'),
    ]
    for x, y, label, colour in header:
        bg.text(x, y, label, color=colour, fontsize=TICK_FONT, va='center', ha='left')
    bg.text(64, 432, '●●●●●', color=GREY, fontsize=4.7, va='center', ha='left')

    # top right buttons
    bg.text(1516, 9, '商品叠加', color=BLUE, fontsize=9, va='center', ha='center')
    bg.plot([1493, 1540], [16, 16], color=BLUE, linewidth=0.7)
    bg.text(1572, 9, '周期', color=BLUE, fontsize=9, va='center', ha='center')
    bg.plot([1561, 1584], [16, 16], color=BLUE, linewidth=0.7)
    for x, glyph in ((1606, '⇦'), (1623, '⇨')):
        bg.add_patch(Rectangle((x, 1.5), 15, 13, fill=False, edgecolor=BLUE, linewidth=0.9))
        bg.text(x + 7.5, 7.5, glyph, color=BLUE, fontsize=11, va='center', ha='center', family='DejaVu Sans')
    bg.add_patch(Rectangle((1640, 1.5), 15, 13, fill=False, edgecolor=BLUE, linewidth=0.9))
    bg.plot([1640, 1651], [8, 8], color=BLUE, linewidth=0.9)
    bg.plot([1651, 1651], [1.5, 14.5], color=BLUE, linewidth=0.9)
    bg.add_patch(Rectangle((1881, 1.5), 15, 13, fill=False, edgecolor=BLUE, linewidth=0.9))
    bg.add_patch(Rectangle((1884, 4.5), 9, 7, fill=False, edgecolor=BLUE, linewidth=0.9))

    # quote panel
    bg.text(1770, 12.5, '英镑美元(GBPUSD)', color='#e6e000', fontsize=12, fontweight='bold', va='center', ha='center')
    for y in (24.3, 55.3, 86.3, 167.3):
        bg.plot([1657, W], [y, y], color=FRAME, linewidth=0.9)
    bg.plot([1695, W], [945.3, 945.3], color=FRAME, linewidth=0.9)
    bg.plot([1657, 1657, 1660, 1692, 1695, 1695], [945, 958, 960.5, 960.5, 958, 945.3], color=FRAME, linewidth=0.9)
    bg.text(1676, 953, '笔', color=GREY, fontsize=9.5, va='center', ha='center')

    for y, label, price in ((40, '卖出', '1.25844'), (71, '买入', '1.25774')):
        bg.text(1663, y, label, color=GREY, fontsize=10.5, va='center')
        bg.text(1697, y, price, color=GREEN, fontsize=14, fontweight='bold', va='center')
        bg.text(1779, y, '0', color='#ffff00', fontsize=14, fontweight='bold', va='center')

    for row, (name1, val1, col1, name2, val2, col2) in enumerate(quote_rows):
        y = 97 + 20 * row
        bg.text(1663, y, name1, color=GREY, fontsize=10.5, va='center')
        bg.text(1771, y, val1, color=col1, fontsize=10, fontweight='bold', va='center', ha='right')
        if name2:
            bg.text(1785, y, name2, color=GREY, fontsize=10.5, va='center')
            bg.text(1892, y, val2, color=col2, fontsize=10, fontweight='bold', va='center', ha='right')

    bg.text(1663, 179, '北京', color='#787878', fontsize=10.5, va='center')
    bg.text(1799, 179, '价格', color='#787878', fontsize=10.5, va='center', ha='right')
    bg.text(1893, 179, '现手', color='#787878', fontsize=10.5, va='center', ha='right')
    for row, (stamp, price) in enumerate(zip(tick_times, tick_prices)):
        y = 201 + 22 * row
        if len(stamp) > 3:
            bg.text(1664, y, stamp, color='#e8e8e8', fontsize=10, fontweight='bold', va='center')
        else:
            bg.text(1697, y, stamp, color=GREY, fontsize=9, va='center', ha='right')
        bg.text(1799, y, price, color=GREEN, fontsize=10, fontweight='bold', va='center', ha='right')
        bg.text(1893, y, '0', color='#e8e8e8', fontsize=10, fontweight='bold', va='center', ha='right')


def main():
    fig = plt.figure(figsize=(W / 100, H / 100), dpi=100, facecolor='black')

    # price axis is set so that the fibonacci labels fall on their lines
    ax_price = make_pane(fig, 18, 421.3, (1.01499, 1.50252), price_ticks, price_labels)
    ax_signal = make_pane(fig, 421.3, 551.3, (-0.027, 1.1545), [0.4, 0.8], ['0.4', '0.8'])
    ax_trend = make_pane(fig, 551.3, 678.3, (-0.0417, 0.0340), [0], ['0'])
    ax_kd = make_pane(fig, 678.3, 807, (1.96, 111.5), [40, 80], ['40', '80'])
    ax_olympic = make_pane(fig, 807, 945.3, (-70.1, 70.4), [0], ['0'])

    draw_price(ax_price)
    draw_signals(ax_signal)
    draw_trend(ax_trend)
    draw_kd(ax_kd)
    draw_olympic(ax_olympic)

    bg = fig.add_axes([0, 0, 1, 1], zorder=10)
    bg.patch.set_visible(False)
    bg.set_xlim(0, W)
    bg.set_ylim(H, 0)
    bg.axis('off')
    draw_chrome(bg)

    fig.savefig('out.png', dpi=100, facecolor='black')


if __name__ == '__main__':
    main()
